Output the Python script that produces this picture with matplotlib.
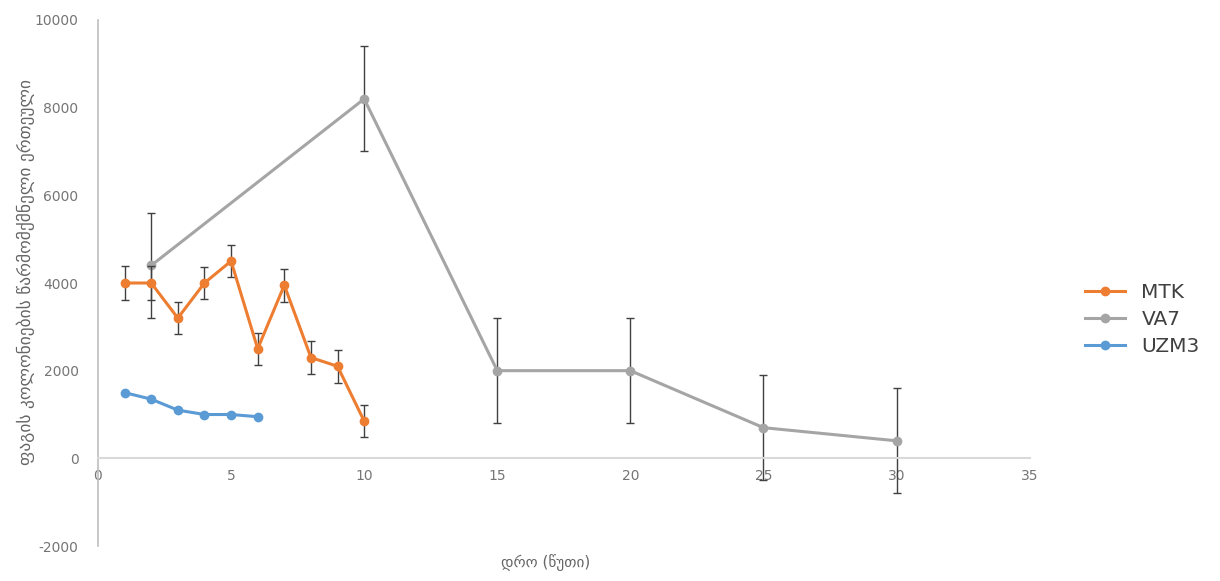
import matplotlib.pyplot as plt
from matplotlib.lines import Line2D

plt.rcParams['font.family'] = ['DejaVu Sans']
plt.rcParams['axes.unicode_minus'] = False

# MTK
mtk_x = [1, 2, 3, 4, 5, 6, 7, 8, 9, 10]
mtk_y = [4000, 4000, 3200, 4000, 4500, 2500, 3950, 2300, 2100, 850]
mtk_err = [380, 380, 360, 370, 360, 370, 380, 370, 370, 370]

# VA7
va7_x = [2, 10, 15, 20, 25, 30]
va7_y = [4400, 8200, 2000, 2000, 700, 400]
va7_err = [1200, 1200, 1200, 1200, 1200, 1200]

# UZM3
uzm_x = [1, 2, 3, 4, 5, 6]
uzm_y = [1500, 1350, 1100, 1000, 1000, 950]

xticks = [0, 5, 10, 15, 20, 25, 30, 35]
yticks = [-2000, 0, 2000, 4000, 6000, 8000, 10000]

colors = {'MTK': '#ED7D31', 'VA7': '#A5A5A5', 'UZM3': '#5B9BD5'}

fig = plt.figure(figsize=(12.2, 5.81), dpi=100)
ax = fig.add_axes([0.0803, 0.0602, 0.7637, 0.9054])

ax.errorbar(mtk_x, mtk_y, yerr=mtk_err, color=colors['MTK'], marker='o', markersize=6,
            linewidth=2.2, ecolor='#404040', elinewidth=1, capsize=3, zorder=3)
ax.errorbar(va7_x, va7_y, yerr=va7_err, color=colors['VA7'], marker='o', markersize=6,
            linewidth=2.2, ecolor='#404040', elinewidth=1, capsize=3, zorder=2)
ax.plot(uzm_x, uzm_y, color=colors['UZM3'], marker='o', markersize=6, linewidth=2.2,
        zorder=3)

ax.set_xlim(0, 35)
ax.set_ylim(-2000, 10000)
ax.set_xticks(xticks)
ax.set_yticks(yticks)

for s in ['top', 'right']:
    ax.spines[s].set_visible(False)
ax.spines['bottom'].set_position(('data', 0))
ax.spines['bottom'].set_color('#D9D9D9')
ax.spines['bottom'].set_linewidth(1.5)
ax.spines['left'].set_color('#BFBFBF')
ax.spines['left'].set_linewidth(1.2)
ax.tick_params(length=0, labelcolor='#757575', labelsize=10)
ax.tick_params(axis='x', pad=8)
ax.tick_params(axis='y', pad=14)

ax.set_xlabel('დრო (წუთი)', color='#666666', fontsize=11)
ax.xaxis.set_label_coords(0.48, -0.015)
ax.set_ylabel('ფაგის კოლონიების წარმომქმნელი ერთეული', color='#666666', fontsize=12.5)
ax.yaxis.set_label_coords(-0.068, 0.52)

handles = [Line2D([], [], color=colors[k], marker='o', markersize=6, linewidth=2.2)
           for k in ['MTK', 'VA7', 'UZM3']]
leg = ax.legend(handles, ['MTK', 'VA7', 'UZM3'], loc='center left',
                bbox_to_anchor=(1.04, 0.43), frameon=False,
                fontsize=14.5, labelspacing=0.4, handlelength=2.0, handletextpad=0.8)
for t in leg.get_texts():
    t.set_color('#404040')

fig.savefig('out.png', dpi=100)
